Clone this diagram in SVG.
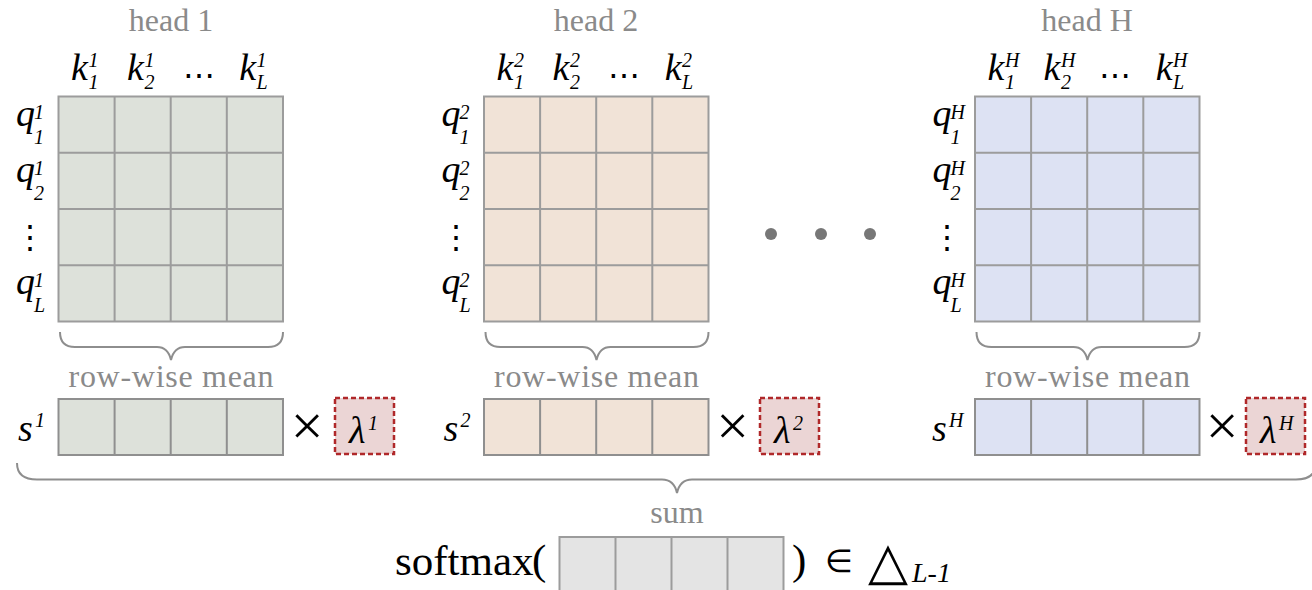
<svg xmlns="http://www.w3.org/2000/svg" width="1312" height="590" viewBox="0 0 1312 590">
<style>
.lbl{font-family:"Liberation Serif","DejaVu Serif",serif;font-size:32px;fill:#8a8a8a;text-anchor:middle}
.m{font-family:"Liberation Serif","DejaVu Serif",serif;font-style:italic;font-size:38px;fill:#000}
.sc{font-family:"Liberation Serif","DejaVu Serif",serif;font-style:italic;font-size:20px;fill:#000}
.dots{font-family:"DejaVu Serif",serif;font-size:32px;fill:#000;text-anchor:middle}
.times{font-family:"Liberation Serif","DejaVu Serif",serif;font-size:58px;fill:#000;text-anchor:middle}
.c1{fill:#dde1da}.c2{fill:#f1e3d7}.cH{fill:#dde2f3}
.lam{fill:#ebd5d5;stroke:#b0282a;stroke-width:2.5;stroke-dasharray:5 3}
.brace{fill:none;stroke:#8e8e8e;stroke-width:2}
.rm{font-family:"Liberation Serif","DejaVu Serif",serif;font-size:43px;fill:#000}
</style>
<defs>
<path id="g44" d="M0,0h224.5v225h-224.5z M56.1,0v225 M112.2,0v225 M168.3,0v225 M0,56.25h224.5 M0,112.5h224.5 M0,168.75h224.5" fill="none" stroke="#9c9c9c" stroke-width="2"/>
<path id="g41" d="M0,0h224.5v56h-224.5z M56.1,0v56 M112.2,0v56 M168.3,0v56" fill="none" stroke="#8f8f8f" stroke-width="2"/>
</defs>

<g id="head1">
<text class="lbl" x="171" y="31">head 1</text>
<text class="m" x="71" y="80">k</text><text class="sc" x="88.5" y="66.5">1</text><text class="sc" x="88.5" y="89">1</text>
<text class="m" x="127.1" y="80">k</text><text class="sc" x="144.5" y="66.5">1</text><text class="sc" x="144.5" y="89">2</text>
<text class="dots" x="198.7" y="86">⋯</text>
<text class="m" x="239.3" y="80">k</text><text class="sc" x="256.5" y="66.5">1</text><text class="sc" x="256.5" y="89">L</text>
<text class="m" x="16" y="125.5">q</text><text class="sc" x="34" y="118.5">1</text><text class="sc" x="34" y="143.5">1</text>
<text class="m" x="16" y="181.8">q</text><text class="sc" x="34" y="174.8">1</text><text class="sc" x="34" y="199.8">2</text>
<text class="dots" x="30" y="248">⋮</text>
<text class="m" x="16" y="294.3">q</text><text class="sc" x="34" y="287.3">1</text><text class="sc" x="34" y="312.3">L</text>
<rect class="c1" x="58.5" y="96.5" width="224.5" height="225"/>
<use href="#g44" x="58.5" y="96.5"/>
<text class="lbl" x="171" y="387" textLength="205" lengthAdjust="spacing">row-wise mean</text>
<text class="m" x="18" y="441">s</text><text class="sc" x="35" y="427">1</text>
<rect class="c1" x="58.5" y="399" width="224.5" height="56"/>
<use href="#g41" x="58.5" y="399"/>
<text class="times" x="307" y="445">×</text>
<rect class="lam" x="335" y="398" width="59" height="56"/>
<text class="m" x="349" y="443">λ</text><text class="sc" x="368" y="430">1</text>
</g>

<g id="head2">
<text class="lbl" x="596" y="31">head 2</text>
<text class="m" x="496.5" y="80">k</text><text class="sc" x="514" y="66.5">2</text><text class="sc" x="514" y="89">1</text>
<text class="m" x="552.6" y="80">k</text><text class="sc" x="570" y="66.5">2</text><text class="sc" x="570" y="89">2</text>
<text class="dots" x="624.2" y="86">⋯</text>
<text class="m" x="664.8" y="80">k</text><text class="sc" x="682" y="66.5">2</text><text class="sc" x="682" y="89">L</text>
<text class="m" x="441.5" y="125.5">q</text><text class="sc" x="459.5" y="118.5">2</text><text class="sc" x="459.5" y="143.5">1</text>
<text class="m" x="441.5" y="181.8">q</text><text class="sc" x="459.5" y="174.8">2</text><text class="sc" x="459.5" y="199.8">2</text>
<text class="dots" x="455.5" y="248">⋮</text>
<text class="m" x="441.5" y="294.3">q</text><text class="sc" x="459.5" y="287.3">2</text><text class="sc" x="459.5" y="312.3">L</text>
<rect class="c2" x="484" y="96.5" width="224.5" height="225"/>
<use href="#g44" x="484" y="96.5"/>
<text class="lbl" x="596.5" y="387" textLength="205" lengthAdjust="spacing">row-wise mean</text>
<text class="m" x="443.5" y="441">s</text><text class="sc" x="460.5" y="427">2</text>
<rect class="c2" x="484" y="399" width="224.5" height="56"/>
<use href="#g41" x="484" y="399"/>
<text class="times" x="732.5" y="445">×</text>
<rect class="lam" x="760" y="398" width="59" height="56"/>
<text class="m" x="774" y="443">λ</text><text class="sc" x="793" y="430">2</text>
</g>

<g id="ellipsis">
<circle cx="771" cy="234" r="6" fill="#777"/>
<circle cx="821" cy="234" r="6" fill="#777"/>
<circle cx="870" cy="234" r="6" fill="#777"/>
</g>

<g id="headH">
<text class="lbl" x="1087" y="31">head H</text>
<text class="m" x="987.5" y="80">k</text><text class="sc" x="1005" y="66.5">H</text><text class="sc" x="1005" y="89">1</text>
<text class="m" x="1043.6" y="80">k</text><text class="sc" x="1061" y="66.5">H</text><text class="sc" x="1061" y="89">2</text>
<text class="dots" x="1115.2" y="86">⋯</text>
<text class="m" x="1155.8" y="80">k</text><text class="sc" x="1173" y="66.5">H</text><text class="sc" x="1173" y="89">L</text>
<text class="m" x="932.5" y="125.5">q</text><text class="sc" x="950.5" y="118.5">H</text><text class="sc" x="950.5" y="143.5">1</text>
<text class="m" x="932.5" y="181.8">q</text><text class="sc" x="950.5" y="174.8">H</text><text class="sc" x="950.5" y="199.8">2</text>
<text class="dots" x="946.5" y="248">⋮</text>
<text class="m" x="932.5" y="294.3">q</text><text class="sc" x="950.5" y="287.3">H</text><text class="sc" x="950.5" y="312.3">L</text>
<rect class="cH" x="975" y="96.5" width="224.5" height="225"/>
<use href="#g44" x="975" y="96.5"/>
<text class="lbl" x="1087.5" y="387" textLength="205" lengthAdjust="spacing">row-wise mean</text>
<text class="m" x="932" y="441">s</text><text class="sc" x="949" y="427">H</text>
<rect class="cH" x="975" y="399" width="224.5" height="56"/>
<use href="#g41" x="975" y="399"/>
<text class="times" x="1222" y="445">×</text>
<rect class="lam" x="1246" y="398" width="59" height="56"/>
<text class="m" x="1260" y="443">λ</text><text class="sc" x="1279" y="430">H</text>
</g>

<g id="connectors">
<path class="brace" d="M60,332 Q60,347 75,347 L157,347 Q168,347 171,360 Q174,347 185,347 L268,347 Q283,347 283,332"/>
<path class="brace" d="M485.5,332 Q485.5,347 500.5,347 L582.5,347 Q593.5,347 596.5,360 Q599.5,347 610.5,347 L693.5,347 Q708.5,347 708.5,332"/>
<path class="brace" d="M976.5,332 Q976.5,347 991.5,347 L1073.5,347 Q1084.5,347 1087.5,360 Q1090.5,347 1101.5,347 L1184.5,347 Q1199.5,347 1199.5,332"/>
<path class="brace" d="M17,463 Q17,479.5 37,479.5 L662,479.5 Q674,479.5 677,493 Q680,479.5 692,479.5 L1296,479.5 Q1316,479.5 1316,463"/>
</g>

<g id="result">
<text class="lbl" x="677" y="523">sum</text>
<text class="rm" x="395" y="575">softmax</text>
<text class="rm" x="532" y="574" font-size="56">(</text>
<rect x="559.5" y="537" width="224" height="56" fill="#e4e4e4"/>
<path d="M559.5,537h224v56h-224z M615.5,537v56 M671.5,537v56 M727.5,537v56" fill="none" stroke="#9c9c9c" stroke-width="2"/>
<text class="rm" x="792" y="574" font-size="56">)</text>
<text x="839" y="572" font-family="DejaVu Sans,sans-serif" font-size="32" text-anchor="middle">∈</text>
<text x="888" y="579" font-family="DejaVu Sans,sans-serif" font-size="52" text-anchor="middle">△</text>
<text x="912" y="582" font-family="Liberation Serif,serif" font-style="italic" font-size="28">L-1</text>
</g>
</svg>
